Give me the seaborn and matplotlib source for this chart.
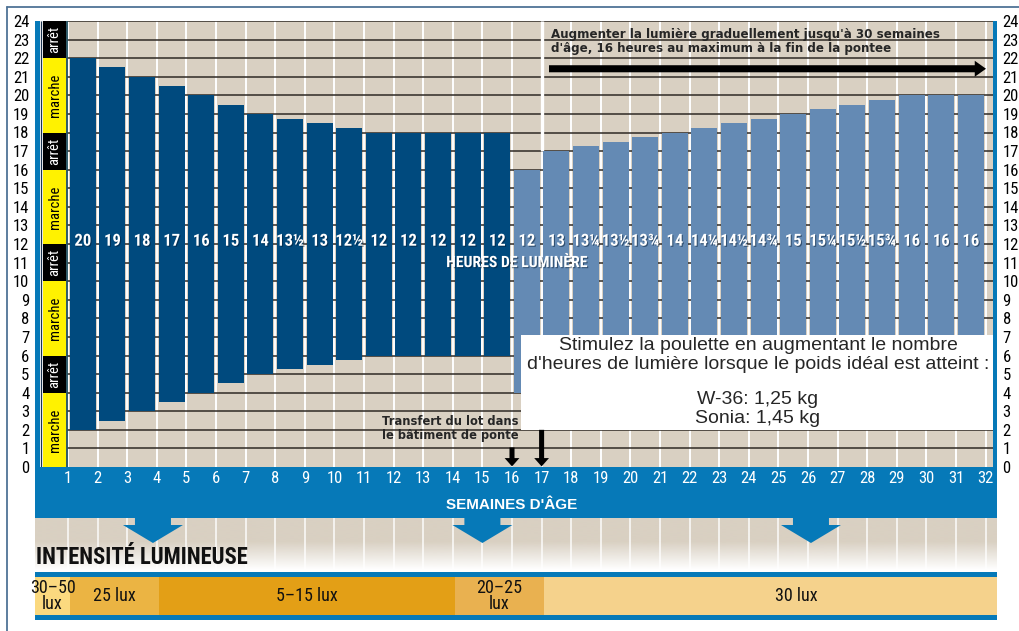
import numpy as np
import pandas as pd
import matplotlib
matplotlib.use("Agg")
import matplotlib.pyplot as plt
import matplotlib.patheffects as pe
from matplotlib import font_manager as fm
from matplotlib.patches import Rectangle, Polygon, FancyArrow
from matplotlib.lines import Line2D
import seaborn as sns

# ------------------------------------------------------------------ data
weeks_dark = [1, 2, 3, 4, 5, 6, 7, 8, 9, 10, 11, 12, 13, 14, 15]
hours_dark = [20, 19, 18, 17, 16, 15, 14, 13.5, 13, 12.5, 12, 12, 12, 12, 12]
lights_on_dark = [2, 2.5, 3, 3.5, 4, 4.5, 5, 5.25, 5.5, 5.75, 6, 6, 6, 6, 6]

weeks_light = [16, 17, 18, 19, 20, 21, 22, 23, 24, 25, 26, 27, 28, 29, 30, 31]
hours_light = [12, 13, 13.25, 13.5, 13.75, 14, 14.25, 14.5, 14.75, 15, 15.25,
               15.5, 15.75, 16, 16, 16]
lights_on_light = [4, 4, 4, 4, 4, 4, 4, 4, 4, 4, 4, 4, 4, 4, 4, 4]

week_ticks = list(range(1, 33))
hour_ticks = list(range(0, 25))

switch_from = [0, 4, 6, 10, 12, 16, 18, 22]
switch_to = [4, 6, 10, 12, 16, 18, 22, 24]
switch_labels = ["marche", "arrêt", "marche", "arrêt",
                 "marche", "arrêt", "marche", "arrêt"]

lux_labels = ["30–50\nlux", "25 lux", "5–15 lux", "20–25\nlux", "30 lux"]
lux_from_week = [0, 1, 4, 14, 17]
lux_to_week = [1, 4, 14, 17, 32]

transfer_weeks = [16, 17]
chevron_weeks = [3.87, 15.0, 26.1]

title_top = ("Augmenter la lumière graduellement jusqu'à 30 semaines\n"
             "d'âge, 16 heures au maximum à la fin de la pontee")
transfer_text = "Transfert du lot dans\nle bâtiment de ponte"
box_text1 = ("Stimulez la poulette en augmentant le nombre\n"
             "d'heures de lumière lorsque le poids idéal est atteint :")
box_text2 = "W-36: 1,25 kg\nSonia: 1,45 kg"

# ------------------------------------------------------------------ style
sns.set_theme(style="white")


def pick_font(cands):
    for c in cands:
        ws = {f.weight for f in fm.fontManager.ttflist
              if f.name == c and "[" not in f.fname and f.style == "normal"}
        if 400 in ws and 700 in ws:
            return c
    return "Liberation Sans"


COND = pick_font(["Roboto Condensed", "Barlow Semi Condensed", "Asap Condensed",
                  "Liberation Sans Narrow"])
plt.rcParams["font.family"] = [COND, "DejaVu Sans"]
SANS = ["Liberation Sans", "DejaVu Sans"]

BEIGE = "#d9d0c2"
BLUE = "#0679b8"
DARK = "#004a7e"
LIGHT = "#648ab4"
YELLOW = "#fff200"
LUX_COLORS = ["#fbd97f", "#ebb443", "#e39f16", "#e9b150", "#f5d28c"]

W, H = 1020, 631
PX, PY = 29.6, 446 / 24.0


def px2x(p):
    return 1 + (p - 68) / PX


XL, XR = px2x(35), px2x(997)

fig = plt.figure(figsize=(W / 100, H / 100), dpi=100)
fig.patch.set_facecolor("white")

ax = fig.add_axes([35 / W, (H - 467) / H, (997 - 35) / W, (467 - 21) / H])
axb = fig.add_axes([35 / W, 0, (997 - 35) / W, (H - 467) / H])
ax.set_zorder(2)
axb.set_zorder(1)

# ------------------------------------------------------------------ main axes
ax.set_facecolor(BEIGE)
for s in ax.spines.values():
    s.set_visible(False)

df_dark = pd.DataFrame({"pos": np.array(weeks_dark) + 0.5, "hours": hours_dark})
df_light = pd.DataFrame({"pos": np.array(weeks_light) + 0.5, "hours": hours_light})
sns.barplot(data=df_dark, x="pos", y="hours", native_scale=True, width=0.88,
            color=DARK, saturation=1, errorbar=None, bottom=lights_on_dark,
            linewidth=0, zorder=2, ax=ax)
sns.barplot(data=df_light, x="pos", y="hours", native_scale=True, width=0.88,
            color=LIGHT, saturation=1, errorbar=None, bottom=lights_on_light,
            linewidth=0, zorder=2, ax=ax)

ax.set_xlim(XL, XR)
ax.set_ylim(0, 24)
ax.set_xlabel("")
ax.set_ylabel("")
ax.set_xticks(week_ticks)
ax.set_xticklabels([str(w) for w in week_ticks], color="white", fontsize=12)
ax.tick_params(axis="x", length=0, pad=3)
ax.set_yticks(hour_ticks)
ax.set_yticklabels([str(h) for h in hour_ticks], fontsize=12)
ax.tick_params(axis="y", length=0, pad=4, labelleft=True, labelright=True,
               colors="black")
ax.grid(axis="x", color="white", linewidth=1.4)
ax.grid(axis="y", visible=False)
ax.set_axisbelow(True)

# horizontal hour lines
ax.hlines(hour_ticks[1:], px2x(67), px2x(993), colors="#2f2a25",
          linewidth=1.1, zorder=1)
# bold white line where the stimulation period starts
ax.vlines(17, 17, 24, colors="white", linewidth=2.4, zorder=1.5)

# left side strips and on/off column
ax.add_patch(Rectangle((XL, 0), px2x(40) - XL, 24, fc=BLUE, ec="none", zorder=3))
ax.add_patch(Rectangle((px2x(40), 0), px2x(43) - px2x(40), 24, fc="#eeeeee",
                       ec="none", zorder=3))
ax.vlines(px2x(40.8), 0, 24, colors="#1c3550", linewidth=0.8, zorder=3.5)
ax.vlines(px2x(67), 0, 24, colors="#1f4f5f", linewidth=1.3, zorder=3.5)
CX0, CX1 = px2x(43), px2x(66)
for a, b, lab in zip(switch_from, switch_to, switch_labels):
    on = lab == "marche"
    ax.add_patch(Rectangle((CX0, a), CX1 - CX0, b - a,
                           fc=YELLOW if on else "black", ec="none", zorder=3))
    ax.text((CX0 + CX1) / 2, (a + b) / 2, lab, rotation=90, ha="center",
            va="center", color="black" if on else "white",
            fontsize=10.5, zorder=4)
# right strip
ax.add_patch(Rectangle((px2x(993), 0), XR - px2x(993), 24, fc=BLUE, ec="none",
                       zorder=3))


# bar value labels
def frac_label(h):
    whole = int(h)
    return str(whole) + {0.0: "", 0.25: "¼", 0.5: "½", 0.75: "¾"}[h - whole]


shadow = [pe.withSimplePatchShadow(offset=(0.8, -0.8), shadow_rgbFace="#001830",
                                   alpha=0.5)]
for w, h in list(zip(weeks_dark, hours_dark)) + list(zip(weeks_light, hours_light)):
    ax.text(w + 0.5, 12.15, frac_label(h), ha="center", va="center",
            color="white", fontsize=12, fontweight="bold", zorder=5,
            path_effects=shadow)
ax.text(px2x(517), 11.0, "HEURES DE LUMINÈRE", ha="center", va="center",
        color="white", fontsize=11.3, fontweight="bold", zorder=5,
        path_effects=shadow)

# top note + arrow
ax.text(px2x(551), 22.9, title_top, ha="left", va="center", fontsize=8.6,
        fontweight="bold", family=["DejaVu Sans"], linespacing=1.1, zorder=5)
ax.add_patch(FancyArrow(px2x(549), 21.43, px2x(986) - px2x(549), 0,
                        width=0.38, head_width=0.86, head_length=0.38,
                        length_includes_head=True, fc="black", ec="none",
                        zorder=5))

# white info box
ax.add_patch(Rectangle((px2x(521), 2.0), px2x(993) - px2x(521), 5.1,
                       fc="white", ec="none", zorder=4))
ax.text(px2x(758), 6.03, box_text1, ha="center", va="center",
        fontsize=14, family=SANS, linespacing=1.1, zorder=5)
ax.text(px2x(758), 3.12, box_text2, ha="center", va="center",
        fontsize=14, family=SANS, linespacing=1.1, zorder=5)

# transfer note + arrows
ax.text(px2x(518), 2.08, transfer_text, ha="right", va="center",
        multialignment="right", fontsize=8.3, fontweight="bold",
        family=["DejaVu Sans"], linespacing=1.1, zorder=5)
for w, ytop in zip(transfer_weeks, [1.05, 2.0]):
    ax.add_patch(FancyArrow(w, ytop, 0, 0.03 - ytop, width=0.17,
                            head_width=0.5, head_length=0.45,
                            length_includes_head=True, fc="black", ec="none",
                            zorder=5))

# ------------------------------------------------------------------ lower axes
axb.set_xlim(XL, XR)
axb.set_ylim(-(H - 467) / PY, 0)
axb.axis("off")


def py(p):
    return -(p - 467) / PY


# blue week band
axb.add_patch(Rectangle((XL, py(518)), XR - XL, -py(518), fc=BLUE, ec="none",
                        zorder=1))
axb.text(px2x(512), py(505), "SEMAINES D'ÂGE", ha="center", va="center",
         color="white", fontsize=11, fontweight="bold", family=SANS, zorder=3)

# beige fade area
beige_rgb = np.array(matplotlib.colors.to_rgb(BEIGE))
n = 120
t = np.linspace(0, 1, n)
alpha = np.clip((1 - t) / 0.55, 0, 1)
grad = np.ones((n, 1, 4))
grad[:, 0, :3] = beige_rgb
grad[:, 0, 3] = alpha
axb.imshow(grad, extent=(XL, XR, py(570), py(518)), aspect="auto",
           origin="upper", zorder=0.5, interpolation="bilinear")
axb.vlines(week_ticks, py(570), py(518), colors="white", linewidth=1.2,
           alpha=0.85, zorder=0.8)

# chevrons
for c in chevron_weeks:
    hw_r, hw_t = 18 / PX, 30 / PX
    pts = [(c - hw_r, py(517)), (c - hw_r, py(525)), (c - hw_t, py(525)),
           (c, py(543)), (c + hw_t, py(525)), (c + hw_r, py(525)),
           (c + hw_r, py(517))]
    axb.add_patch(Polygon(pts, closed=True, fc=BLUE, ec="none", zorder=2))

axb.text(px2x(36), py(558), "INTENSITÉ LUMINEUSE", ha="left", va="center",
         fontsize=16.3, fontweight="bold", color="#111111", zorder=3)

# lux band
axb.add_patch(Rectangle((XL, py(577)), XR - XL, py(572) - py(577), fc=BLUE,
                        ec="none", zorder=1))
axb.add_patch(Rectangle((XL, py(620)), XR - XL, py(615) - py(620), fc=BLUE,
                        ec="none", zorder=1))
lux_label_x = [None, None, None, None, px2x(796)]
for lab, a, b, col, lx in zip(lux_labels, lux_from_week, lux_to_week,
                              LUX_COLORS, lux_label_x):
    x0 = XL if a == 0 else a + 0.07
    x1 = XR if b == 32 else b + 0.07
    axb.add_patch(Rectangle((x0, py(615)), x1 - x0, py(577) - py(615), fc=col,
                            ec="none", zorder=1))
    axb.text(lx if lx is not None else (x0 + x1) / 2, py(596), lab,
             ha="center", va="center", fontsize=13, color="#111111",
             linespacing=0.85, zorder=3)

# outer frame
fig.add_artist(Line2D([7 / W, 7 / W], [0, 1 - 7 / H], color="#4f7396", lw=1.3))
fig.add_artist(Line2D([7 / W, 1], [1 - 7 / H, 1 - 7 / H], color="#4f7396", lw=1.3))

fig.savefig("out.png", dpi=100, facecolor="white")
